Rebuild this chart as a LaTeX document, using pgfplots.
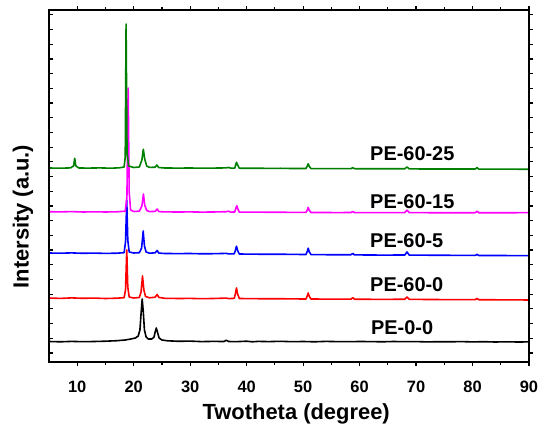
\documentclass[border=0pt]{standalone}
\usepackage{pgfplots}
\pgfplotsset{compat=1.18}
\usepackage{fontspec}
\setmainfont{Liberation Sans}
\definecolor{xgreen}{RGB}{0,128,0}
\definecolor{xmag}{RGB}{255,0,255}
\definecolor{xblue}{RGB}{0,0,255}
\definecolor{xred}{RGB}{255,0,0}
\begin{document}
\begin{tikzpicture}
\useasboundingbox (0,0) rectangle (543bp,429bp);
\begin{axis}[
  at={(49bp,67bp)}, anchor=south west,
  width=480bp, height=352bp, scale only axis,
  xmin=5, xmax=90, ymin=0, ymax=352,
  axis line style={line width=2bp},
  xtick={10,20,...,90}, minor x tick num=1,
  ytick={9,23.7,38.4,53.1,67.8,82.5,97.2,111.9,126.6,141.3,156,170.7,185.4,200.1,214.8,229.5,244.2,258.9,273.6,288.3,303,317.7,332.4,347.1},
  yticklabels={},
  tick align=outside,
  xtick pos=both, ytick pos=right,
  major tick length=3.5bp, minor tick length=2.5bp,
  tick style={line width=1.2bp, black},
  /pgf/number format/assume math mode=true,
  tick label style={font=\fontsize{16.5}{18}\selectfont\bfseries},
  xticklabel style={inner sep=0pt, anchor=north, yshift=-15bp},
  xlabel={Twotheta (degree)},
  ylabel={Intersity (a.u.)},
  label style={font=\fontsize{22}{24}\selectfont\bfseries},
  xlabel style={at={(axis description cs:0.515,-0.162)}, anchor=base, inner sep=0pt},
  ylabel style={at={(axis description cs:-0.0427,0.413)}, anchor=base, inner sep=0pt},
  every axis plot/.append style={line width=1.6bp, line join=round},
  clip=true,
]
% PE-0-0
\addplot[black, mark=none] coordinates {
(5,20.5) (7,20.2) (9,20.6) (11,20.3) (13,20.5) (15,20.8) (17,21.3) (18.5,22) (19.5,23) (20.3,24) (20.8,26) (21.1,32) (21.3,48) (21.5,63) (21.7,50) (21.9,32) (22.2,25) (22.6,23) (23.2,23) (23.6,25) (23.8,30) (24.0,34) (24.2,30) (24.5,24) (25,22) (26,21.2) (28,20.7) (30,20.9) (32,20.4) (34,20.6) (36,20.5) (36.4,21.8) (36.8,20.5) (38,20.3) (40,20.8) (41,20.2) (42,20.6) (44,20.4) (46,20.7) (48,20.3) (50,20.5) (52,20.2) (54,20.6) (56,20.4) (58,20.3) (60,20.5) (62,20.4) (64,20.2) (66,20.5) (68,20.3) (70,20.4) (72,20.1) (74,20.3) (76,20.2) (78,20.4) (80,20.1) (82,20.3) (84,20.0) (86,20.2) (88,20.0) (90,20.1)
};
% PE-60-0
\addplot[xred, mark=none] coordinates {
(5,64) (7,63.6) (9,64.1) (11,63.7) (13,63.9) (15,63.5) (17,63.8) (18.3,64.3) (18.55,72) (18.77,112) (18.95,75) (19.2,65) (20,64) (21,64.5) (21.3,70) (21.56,86) (21.8,72) (22.1,65.5) (22.8,64.2) (23.8,64.8) (24.15,67.5) (24.45,64.6) (25.5,63.7) (28,63.5) (30,63.6) (32,63.3) (34,63.5) (36.4,63.9) (36.8,63.4) (37.8,63.6) (38.0,68) (38.2,74) (38.4,68) (38.7,63.5) (40,63.4) (42,63.3) (44,63.2) (46,63.3) (48,63.1) (50.5,63.0) (50.7,65.5) (50.9,69) (51.1,65.5) (51.4,63) (54,62.9) (56,62.8) (58.5,62.9) (58.8,64.3) (59.1,62.8) (62,62.7) (64,62.6) (68.0,62.8) (68.4,65) (68.8,62.7) (72,62.5) (76,62.4) (80.5,62.4) (80.8,63.6) (81.1,62.3) (84,62.2) (88,62.1) (90,62)
};
% PE-60-5
\addplot[xblue, mark=none] coordinates {
(5,109) (7,108.8) (9,109.1) (11,108.7) (13,108.9) (15,108.6) (17,108.8) (18.3,109.3) (18.55,120) (18.77,162) (18.95,122) (19.2,110) (20,109) (21,109.3) (21.4,114) (21.68,131) (21.9,116) (22.2,110) (22.8,108.8) (23.8,109.2) (24.15,111.5) (24.45,108.9) (25.5,108.5) (28,108.4) (30,108.5) (32,108.2) (34,108.3) (36.4,108.6) (36.8,108.1) (37.8,108.2) (38.0,111.5) (38.2,115.8) (38.4,111.5) (38.7,108) (40,107.9) (42,107.8) (44,107.7) (46,107.8) (48,107.6) (50.5,107.5) (50.7,110) (50.9,113.8) (51.1,110) (51.4,107.4) (54,107.3) (56,107.2) (58.5,107.3) (58.8,108.6) (59.1,107.1) (62,107.0) (64,106.9) (68.0,107.0) (68.4,110) (68.8,106.9) (72,106.8) (76,106.7) (80.5,106.6) (80.8,107.6) (81.1,106.5) (84,106.5) (88,106.4) (90,106.3)
};
% PE-60-15
\addplot[xmag, mark=none] coordinates {
(5,150.3) (7,150.1) (9,150.4) (11,150.0) (13,150.2) (15,150.0) (17,150.2) (18.5,150.8) (18.8,165) (19.02,274) (19.2,170) (19.45,152) (20,150.5) (21,150.8) (21.45,156) (21.72,168) (21.95,157) (22.3,151.5) (22.8,150.4) (23.8,150.6) (24.15,153) (24.45,150.4) (25.5,150.1) (28,150.0) (30,150.1) (32,149.9) (34,150.0) (36.4,150.3) (36.8,150.8) (37.2,149.9) (37.9,150.0) (38.05,153) (38.25,156.3) (38.45,153) (38.7,149.9) (40,149.8) (42,149.9) (44,149.7) (46,149.8) (48,149.6) (50.5,149.6) (50.7,151.5) (50.9,154.6) (51.1,151.5) (51.4,149.5) (54,149.5) (56,149.4) (58.5,149.5) (58.8,150.5) (59.1,149.4) (62,149.4) (64,149.3) (68.0,149.4) (68.4,151.8) (68.8,149.3) (72,149.3) (76,149.2) (80.5,149.3) (80.8,150.8) (81.1,149.2) (84,149.2) (88,149.3) (90,149.3)
};
% PE-60-25
\addplot[xgreen, mark=none] coordinates {
(5,194) (7,193.8) (8.8,194.1) (9.35,196) (9.55,203.7) (9.75,196) (10.3,194) (12,193.9) (14,194.1) (16,193.8) (17.5,194.2) (18.3,195) (18.5,205) (18.65,338) (18.82,210) (19.1,196) (20,194.5) (21,195) (21.45,202) (21.7,212.7) (21.95,203) (22.3,196) (22.8,194.6) (23.8,194.8) (24.1,197) (24.4,194.5) (25.5,194.0) (28,193.9) (30,194.0) (32,193.8) (34,193.9) (36.4,194.1) (36.8,194.6) (37.2,193.8) (37.9,193.9) (38.05,197) (38.2,199.7) (38.4,197) (38.7,193.8) (40,193.7) (42,193.8) (44,193.6) (46,193.7) (48,193.5) (50.5,193.5) (50.7,195.5) (50.9,198.2) (51.1,195.5) (51.4,193.4) (54,193.4) (56,193.3) (58.5,193.4) (58.8,194.3) (59.1,193.3) (62,193.2) (64,193.2) (68.0,193.2) (68.4,195) (68.8,193.1) (72,193.0) (76,193.0) (80.5,193.0) (80.8,194.4) (81.1,192.9) (84,192.9) (88,192.8) (90,192.7)
};
\node[anchor=west, inner sep=0pt, font=\fontsize{20}{22}\selectfont\bfseries] at (axis cs:61.85,208.3) {PE-60-25};
\node[anchor=west, inner sep=0pt, font=\fontsize{20}{22}\selectfont\bfseries] at (axis cs:61.85,160.3) {PE-60-15};
\node[anchor=west, inner sep=0pt, font=\fontsize{20}{22}\selectfont\bfseries] at (axis cs:61.85,121.7) {PE-60-5};
\node[anchor=west, inner sep=0pt, font=\fontsize{20}{22}\selectfont\bfseries] at (axis cs:61.85,77.3) {PE-60-0};
\node[anchor=west, inner sep=0pt, font=\fontsize{20}{22}\selectfont\bfseries] at (axis cs:62.0,34.7) {PE-0-0};
\end{axis}
\begin{axis}[
  at={(49bp,67bp)}, anchor=south west,
  width=480bp, height=352bp, scale only axis,
  xmin=5, xmax=90, ymin=0, ymax=352,
  axis line style={line width=2bp},
  xtick=\empty,
  ytick={9,23.7,38.4,53.1,67.8,82.5,97.2,111.9,126.6,141.3,156,170.7,185.4,200.1,214.8,229.5,244.2,258.9,273.6,288.3,303,317.7,332.4,347.1},
  yticklabels={},
  tick align=inside, ytick pos=left,
  major tick length=3.5bp,
  tick style={line width=1.2bp, black},
]
\end{axis}
\end{tikzpicture}
\end{document}
